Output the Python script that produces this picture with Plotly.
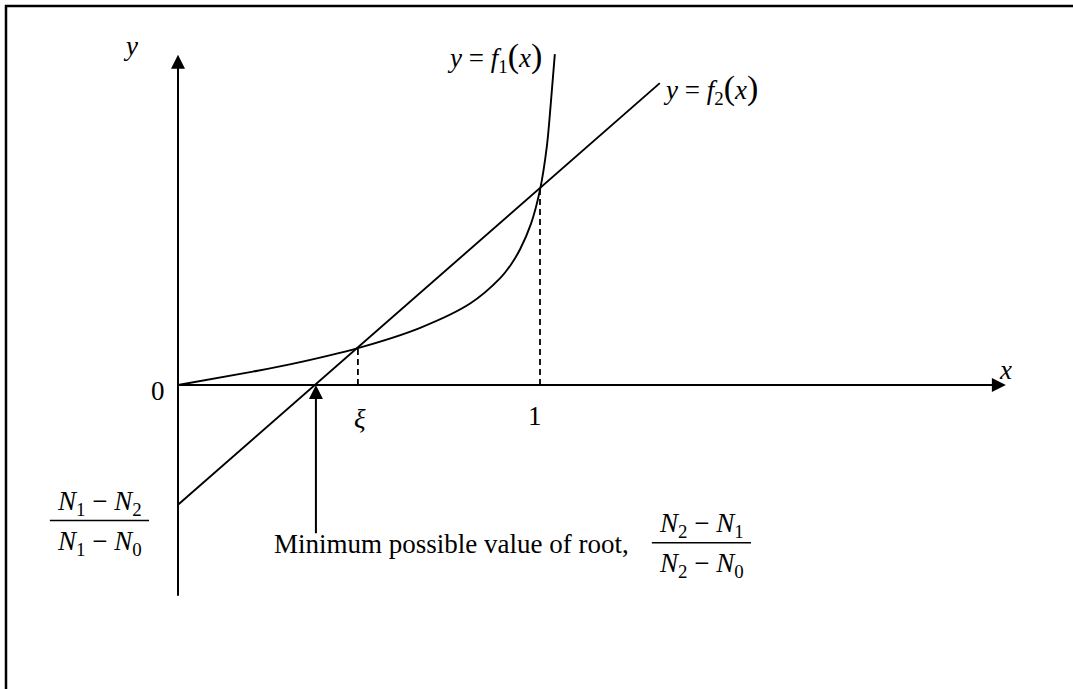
import plotly.graph_objects as go

# Straight line y = f2(x): end points
f2_x = [0.0, 1.331]
f2_y = [-0.331, 0.834]

# Sampled points along the curve y = f1(x)
f1_x = [0.0, 0.207, 0.309, 0.497, 0.669, 0.807, 0.890, 0.920, 0.945, 0.975, 1.000, 1.019, 1.030, 1.041]
f1_y = [0.0, 0.037, 0.057, 0.102, 0.158, 0.225, 0.295, 0.333, 0.375, 0.445, 0.539, 0.660, 0.780, 0.914]

xi = 0.497          # where the two curves meet
f1_at_xi = 0.102
x_one = 1.0
f1_at_one = 0.539
root_min = 0.381    # where f2 crosses y = 0

# extents of the drawn axes
x_axis_end = 2.287
y_axis_top = 0.912
y_axis_bottom = -0.586
root_arrow_tail = -0.414

FONT = "Liberation Serif, Times New Roman, serif"
FS = 27
INK = "black"

fig = go.Figure()

# curves
fig.add_trace(go.Scatter(x=f1_x, y=f1_y, mode="lines",
                         line=dict(color=INK, width=1.9, shape="spline", smoothing=0.9),
                         hoverinfo="skip"))
fig.add_trace(go.Scatter(x=f2_x, y=f2_y, mode="lines",
                         line=dict(color=INK, width=1.9), hoverinfo="skip"))

# dashed guides down to the x-axis
for gx, gy in ((xi, f1_at_xi), (x_one, f1_at_one)):
    fig.add_trace(go.Scatter(x=[gx, gx], y=[0, gy], mode="lines",
                             line=dict(color=INK, width=1.8, dash="6px,4px"),
                             hoverinfo="skip"))

annotations = []


def arrow(x0, y0, x1, y1):
    annotations.append(dict(
        x=x1, y=y1, ax=x0, ay=y0, xref="x", yref="y", axref="x", ayref="y",
        text="", showarrow=True, arrowhead=2, arrowsize=1.4, arrowwidth=2,
        arrowcolor=INK, standoff=0, startstandoff=0))


# axes with arrowheads
arrow(0, y_axis_bottom, 0, y_axis_top)
arrow(0, 0, x_axis_end, 0)
# arrow pointing at the smallest possible root
arrow(root_min, root_arrow_tail, root_min, 0)


def label(x, y, text, xanchor="center", yanchor="middle", size=FS):
    annotations.append(dict(
        x=x, y=y, xref="x", yref="y", text=text, showarrow=False,
        xanchor=xanchor, yanchor=yanchor,
        font=dict(family=FONT, size=size, color=INK)))


def paren(s):
    return '<span style="font-size:34px">' + s + '</span>'


def func_label(k):
    return ("<i>y</i> = <i>f</i><sub>" + k + "</sub>" + paren("(")
            + "<i>x</i>" + paren(")"))


label(-0.130, 0.936, "<i>y</i>")
label(2.287, 0.041, "<i>x</i>")
label(-0.055, -0.017, "0")
label(0.503, -0.094, "<i>ξ</i>")
label(0.986, -0.086, "1")
label(0.874, 0.906, func_label("1"))
label(1.335, 0.818, func_label("2"), xanchor="left")
label(0.260, -0.440, "Minimum possible value of root,", xanchor="left")

# (N1 - N2)/(N1 - N0) at the y-intercept
label(-0.218, -0.326, "<i>N</i><sub>1</sub> − <i>N</i><sub>2</sub>")
label(-0.218, -0.436, "<i>N</i><sub>1</sub> − <i>N</i><sub>0</sub>")
# (N2 - N1)/(N2 - N0) next to the root caption
label(1.445, -0.387, "<i>N</i><sub>2</sub> − <i>N</i><sub>1</sub>")
label(1.445, -0.497, "<i>N</i><sub>2</sub> − <i>N</i><sub>0</sub>")

shapes = [
    # fraction bars
    dict(type="line", xref="x", yref="y", x0=-0.354, x1=-0.080, y0=-0.374, y1=-0.374,
         line=dict(color=INK, width=1.5)),
    dict(type="line", xref="x", yref="y", x0=1.309, x1=1.583, y0=-0.436, y1=-0.436,
         line=dict(color=INK, width=1.5)),
    # frame along the top and left edges
    dict(type="line", xref="paper", yref="paper", x0=5 / 1073, x1=1, y0=1 - 6 / 689, y1=1 - 6 / 689,
         line=dict(color=INK, width=2.5)),
    dict(type="line", xref="paper", yref="paper", x0=6 / 1073, x1=6 / 1073, y0=0, y1=1 - 5 / 689,
         line=dict(color=INK, width=2.5)),
]

PX = 362.0  # pixels per unit on both axes
fig.update_layout(
    width=1073, height=689, margin=dict(l=0, r=0, t=0, b=0),
    paper_bgcolor="white", plot_bgcolor="white", showlegend=False,
    xaxis=dict(range=[-178 / PX, 895 / PX], visible=False, fixedrange=True),
    yaxis=dict(range=[-304 / PX, 385 / PX], visible=False, fixedrange=True),
    annotations=annotations, shapes=shapes,
)

fig.write_html("out.html")
